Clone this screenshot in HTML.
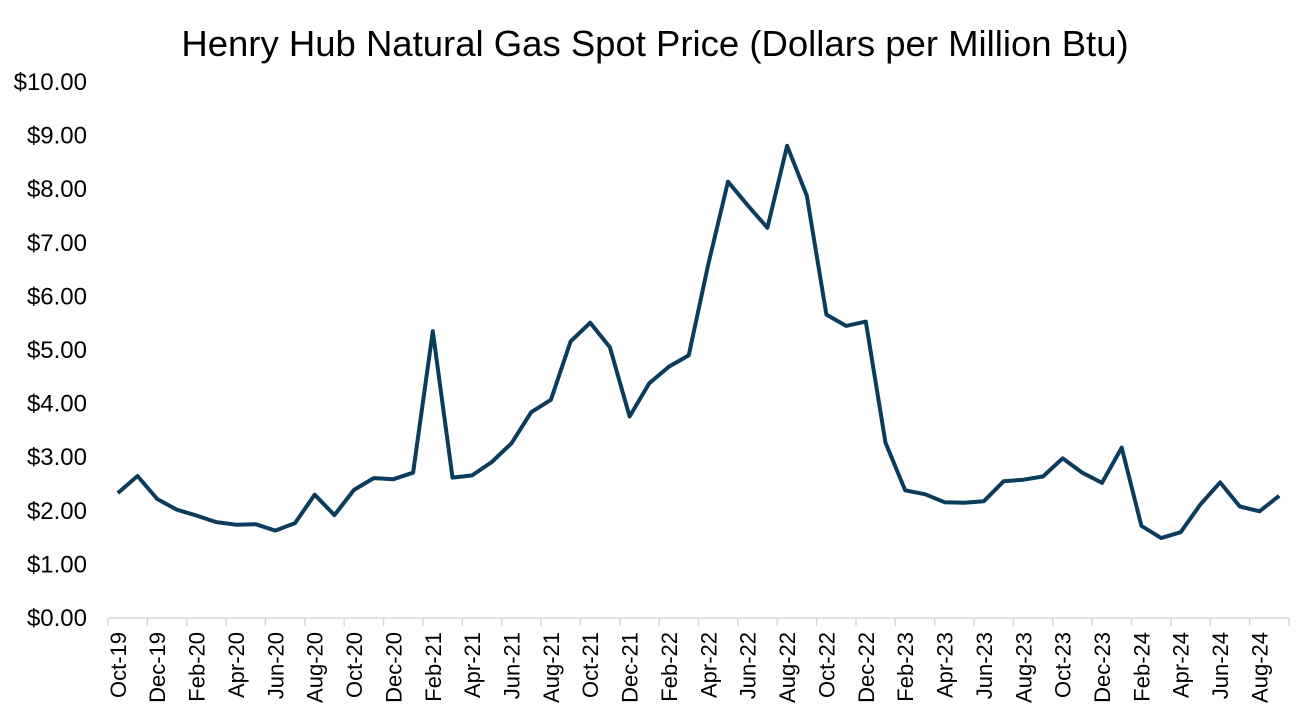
<!DOCTYPE html><html><head><style>body{margin:0;background:#fff}</style></head><body>
<svg width="1311" height="722" xmlns="http://www.w3.org/2000/svg" font-family="Liberation Sans, Arial, sans-serif">
<text x="655" y="56" font-size="36.5" text-anchor="middle" fill="#000">Henry Hub Natural Gas Spot Price (Dollars per Million Btu)</text>
<g id="y" font-size="24" text-anchor="end" fill="#000"></g>
<g id="ax" stroke="#d9d9d9" stroke-width="1.5"></g>
<g id="x" font-size="22" fill="#000"></g>
<polyline id="p" fill="none" stroke="#0b3c5d" stroke-width="4" stroke-linejoin="round"/>
</svg>
<script>
var d=[2.33,2.65,2.22,2.02,1.91,1.79,1.74,1.75,1.63,1.77,2.30,1.92,2.39,2.61,2.59,2.71,5.35,2.62,2.66,2.91,3.26,3.84,4.07,5.16,5.51,5.05,3.76,4.38,4.69,4.90,6.60,8.14,7.70,7.28,8.81,7.88,5.66,5.45,5.53,3.27,2.38,2.31,2.16,2.15,2.18,2.55,2.58,2.64,2.98,2.71,2.52,3.18,1.72,1.49,1.60,2.12,2.53,2.08,1.99,2.28];
var ns="http://www.w3.org/2000/svg",x0=108,x1=1289,y0=618,s=53.6,w=(x1-x0)/60;
function el(t,a,p,txt){var e=document.createElementNS(ns,t);for(var k in a)e.setAttribute(k,a[k]);if(txt)e.textContent=txt;document.getElementById(p).appendChild(e);}
for(var i=0;i<=10;i++)el('text',{x:87,y:y0-i*s+8},'y','$'+i+'.00');
el('line',{x1:x0,y1:y0,x2:x1,y2:y0},'ax');
for(var i=0;i<=60;i+=2)el('line',{x1:x0+i*w,y1:y0,x2:x0+i*w,y2:y0+8},'ax');
var m=['Jan','Feb','Mar','Apr','May','Jun','Jul','Aug','Sep','Oct','Nov','Dec'];
for(var i=0;i<60;i+=2){var mi=(9+i)%12,yr=19+Math.floor((9+i)/12);var cx=x0+(i+0.5)*w+8;
el('text',{x:0,y:0,transform:'translate('+cx+',632) rotate(-90)','text-anchor':'end'},'x',m[mi]+'-'+yr);}
document.getElementById('p').setAttribute('points',d.map(function(v,i){return (x0+(i+0.5)*w).toFixed(1)+','+(y0-v*s).toFixed(1)}).join(' '));
</script>
</body></html>
